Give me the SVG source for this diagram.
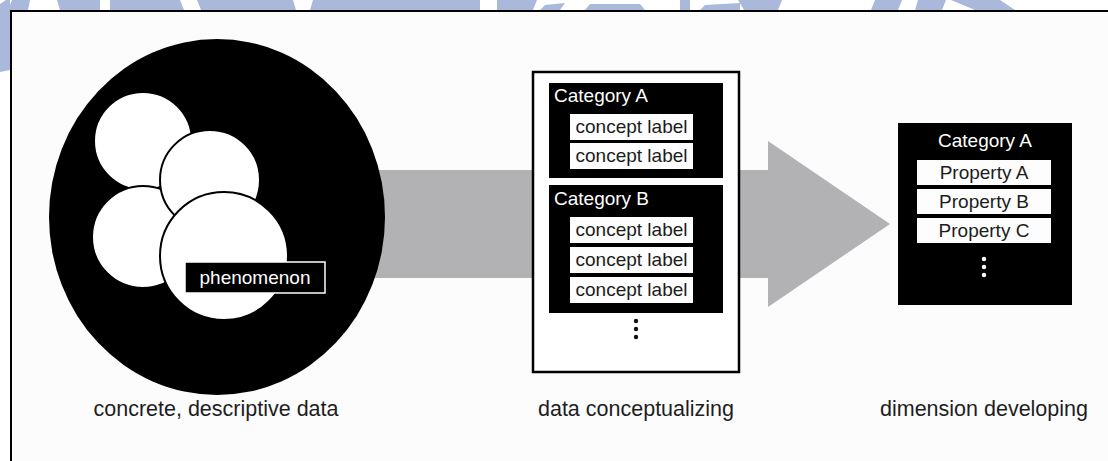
<svg xmlns="http://www.w3.org/2000/svg" width="1108" height="461" viewBox="0 0 1108 461">
  <style>
    .wm { fill: #aab8db; }
    .frame { fill: #fcfcfc; stroke: #000; stroke-width: 2; }
    .blob { fill: #fff; stroke: #000; stroke-width: 2; }
    .dark { fill: #000; }
    .cell { fill: #fdfdfd; }
    .head { font-family: "Liberation Sans", Arial, sans-serif; font-size: 19px; fill: #fff; }
    .item { font-family: "Liberation Sans", Arial, sans-serif; font-size: 19px; fill: #1c1c1c; text-anchor: middle; }
    .caption { font-family: "Liberation Sans", Arial, sans-serif; font-size: 21.5px; fill: #1e1e1e; text-anchor: middle; }
    .dot { fill: #111; }
    .flow { fill: #b2b2b4; }
  </style>

  <!-- page background and light blue mark along the edges -->
  <rect x="0" y="0" width="1108" height="461" fill="#fff"/>
  <g id="mark">
    <polygon class="wm" points="0,4 6,0 10,0 10,70 0,72"/>
    <polygon class="wm" points="12,0 30,0 28,10 8,10"/>
    <polygon class="wm" points="57,0 100,0 100,10 60,10"/>
    <polygon class="wm" points="110,0 180,0 184,10 110,10"/>
    <polygon class="wm" points="197,0 293,0 296,10 201,10"/>
    <polygon class="wm" points="313,0 480,0 480,10 310,10"/>
    <polygon class="wm" points="497,0 537,0 533,10 497,10"/>
    <polygon class="wm" points="545,5 565,3 560,10 540,10"/>
    <polygon class="wm" points="590,4 640,4 645,10 585,10"/>
    <polygon class="wm" points="680,0 690,0 690,10 680,10"/>
    <polygon class="wm" points="705,5 740,3 740,10 700,10"/>
    <polygon class="wm" points="738,0 782,0 778,10 744,10"/>
    <polygon class="wm" points="875,0 902,0 898,10 871,10"/>
    <polygon class="wm" points="918,0 946,0 942,10 915,10"/>
    <polygon class="wm" points="951,0 1000,0 1015,10 975,10"/>
  </g>

  <!-- outer frame, running off the right and bottom edges -->
  <rect class="frame" x="11" y="11" width="1110" height="460"/>

  <g id="connectors">
    <!-- broad grey process arrow -->
    <polygon class="flow" points="300,170 768,170 768,141 890,224 768,307 768,278 300,278"/>
  </g>

  <g id="data">
    <ellipse class="dark" cx="217" cy="217" rx="168" ry="178"/>
    <circle class="blob" cx="143" cy="141" r="49"/>
    <circle class="blob" cx="143" cy="237" r="51"/>
    <circle class="blob" cx="210" cy="180" r="50"/>
    <circle class="blob" cx="224" cy="256" r="64"/>
    <rect x="185" y="262" width="140" height="31" fill="#000" stroke="#fff" stroke-width="1.5"/>
    <text class="head" x="255" y="284" text-anchor="middle" font-size="18">phenomenon</text>
  </g>

  <g id="concepts">
    <rect x="533" y="72" width="206" height="300" fill="#fff" stroke="#000" stroke-width="2.5"/>
    <rect class="dark" x="549" y="83" width="174" height="95"/>
    <text class="head" x="554" y="102">Category A</text>
    <rect class="cell" x="570" y="114" width="123" height="26"/>
    <text class="item" x="631.5" y="133">concept label</text>
    <rect class="cell" x="570" y="143" width="123" height="26"/>
    <text class="item" x="631.5" y="162">concept label</text>

    <rect class="dark" x="549" y="185" width="174" height="128"/>
    <text class="head" x="554" y="205">Category B</text>
    <rect class="cell" x="570" y="217" width="123" height="26"/>
    <text class="item" x="631.5" y="236">concept label</text>
    <rect class="cell" x="570" y="247" width="123" height="26"/>
    <text class="item" x="631.5" y="266">concept label</text>
    <rect class="cell" x="570" y="277" width="123" height="26"/>
    <text class="item" x="631.5" y="296">concept label</text>

    <circle class="dot" cx="636" cy="321" r="2.2"/>
    <circle class="dot" cx="636" cy="329" r="2.2"/>
    <circle class="dot" cx="636" cy="337" r="2.2"/>
  </g>

  <g id="dimensions">
    <rect class="dark" x="898" y="123" width="174" height="182"/>
    <text class="head" x="985" y="147" text-anchor="middle">Category A</text>
    <rect class="cell" x="917" y="160" width="134" height="25"/>
    <text class="item" x="984" y="179">Property A</text>
    <rect class="cell" x="917" y="189" width="134" height="25"/>
    <text class="item" x="984" y="208">Property B</text>
    <rect class="cell" x="917" y="218" width="134" height="25"/>
    <text class="item" x="984" y="237">Property C</text>
    <circle fill="#fff" cx="984" cy="259" r="2.2"/>
    <circle fill="#fff" cx="984" cy="267" r="2.2"/>
    <circle fill="#fff" cx="984" cy="275" r="2.2"/>
  </g>

  <g id="captions">
    <text class="caption" x="216" y="416">concrete, descriptive data</text>
    <text class="caption" x="636" y="416">data conceptualizing</text>
    <text class="caption" x="984" y="416">dimension developing</text>
  </g>
</svg>
